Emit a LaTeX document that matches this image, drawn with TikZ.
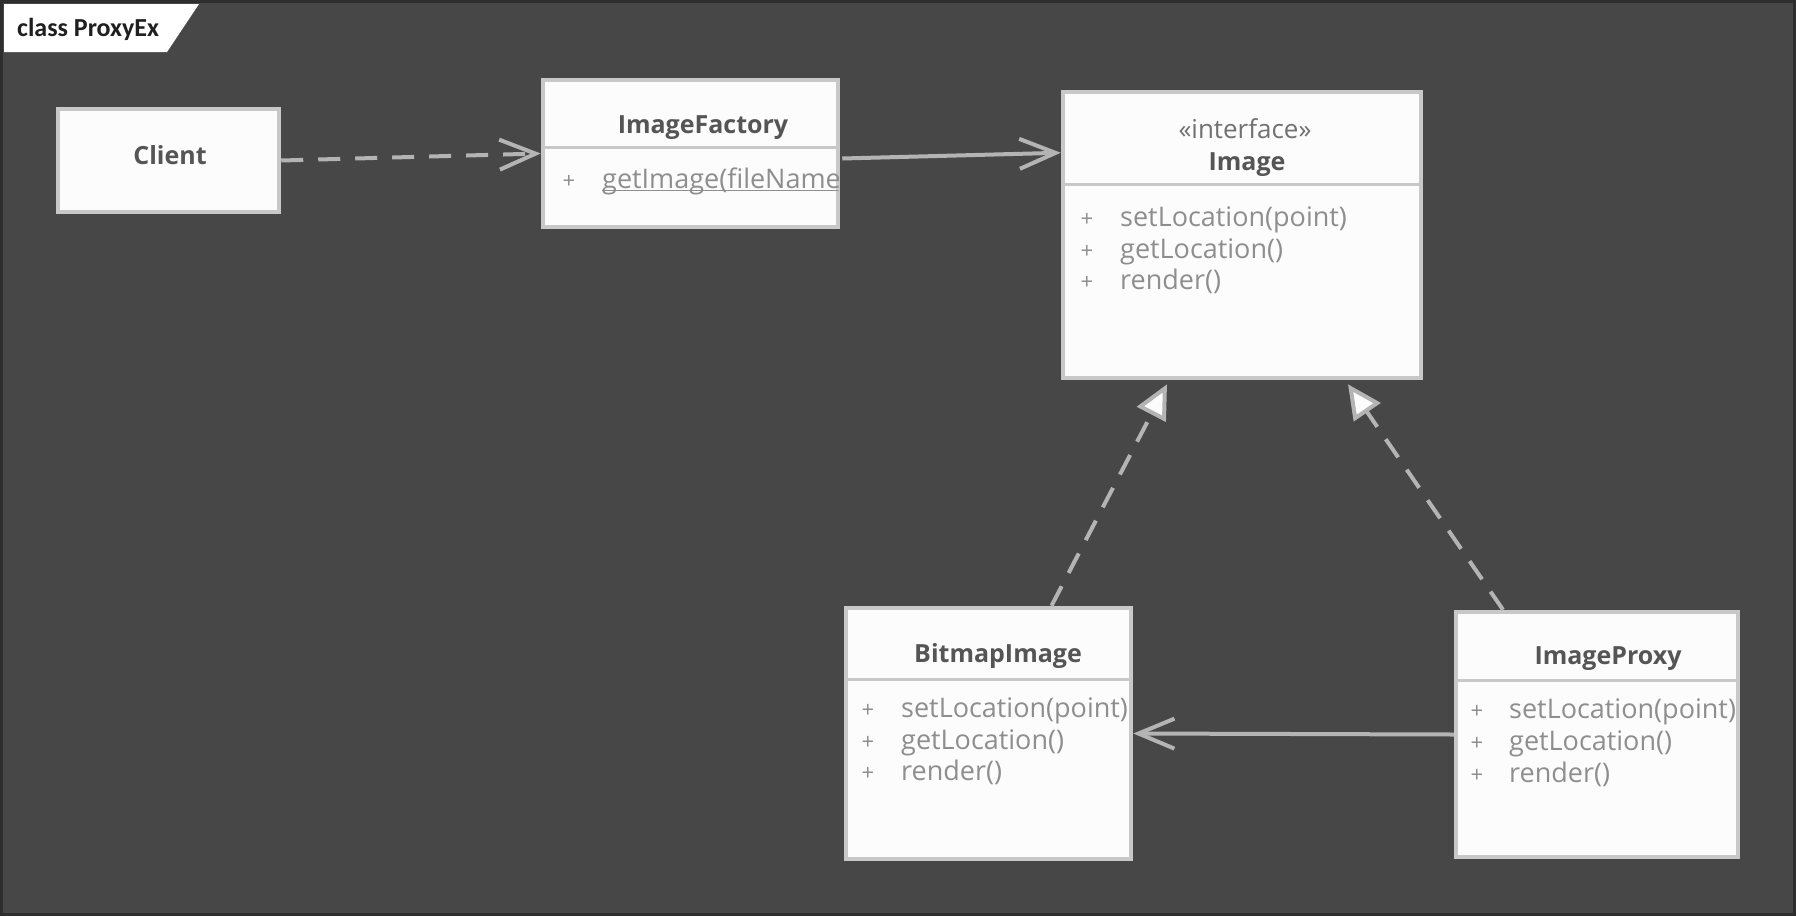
\documentclass[tikz,border=0pt]{standalone}
\usepackage{fontspec}
\setmainfont{Open Sans}
\newfontfamily\tabfont{Carlito}
\usetikzlibrary{arrows.meta,calc}
\definecolor{bg}{HTML}{474747}
\definecolor{boxfill}{HTML}{FCFCFC}
\definecolor{boxline}{HTML}{C8C8C8}
\definecolor{conn}{HTML}{B4B4B4}
\definecolor{titletext}{HTML}{555555}
\definecolor{membertext}{HTML}{8E8E8E}
\definecolor{frameline}{HTML}{2E2E2E}
\tikzset{
  umlbox/.style={draw=boxline, fill=boxfill, line width=4.5pt, rectangle, inner sep=0pt},
  divider/.style={draw=boxline, line width=3pt},
  titlestyle/.style={text=titletext, font=\fontsize{25pt}{30pt}\selectfont\bfseries, inner sep=0pt, anchor=base},
  stereo/.style={text=membertext!80!black, font=\fontsize{26pt}{30pt}\selectfont, inner sep=0pt, anchor=base},
  memberstyle/.style={text=membertext, font=\fontsize{27pt}{30pt}\selectfont, inner sep=0pt, anchor=base west},
  plusstyle/.style={text=membertext, font=\fontsize{22pt}{30pt}\selectfont, inner sep=0pt, anchor=base},
  depline/.style={draw=conn, line width=4pt, dash pattern=on 22pt off 15pt, -{Straight Barb[length=36pt,width=30pt]}},
  assocline/.style={draw=conn, line width=4pt, -{Straight Barb[length=36pt,width=30pt]}},
  realline/.style={draw=conn, line width=4pt, dash pattern=on 22pt off 15pt, -{Triangle[length=34pt,width=32pt,fill=boxfill]}},
}
\begin{document}
\begin{tikzpicture}[x=1pt,y=-1pt]
\useasboundingbox (0,0) rectangle (1796,916);
% background and frame
\fill[bg] (0,0) rectangle (1796,916);
\draw[frameline, line width=3pt] (1.5,1.5) rectangle (1794.5,914.5);
% title tab
\fill[white] (4,4) -- (199,4) -- (167,52) -- (4,52) -- cycle;
\node[text=black!88, font=\tabfont\fontsize{26pt}{30pt}\selectfont\bfseries, inner sep=0pt, anchor=base west] (tab) at (17,36) {class ProxyEx};

% boxes
\node[umlbox, minimum width=221pt, minimum height=103pt] (client) at (168.5,160.5) {};
\node[umlbox, minimum width=295pt, minimum height=147pt] (factory) at (690.5,153.5) {};
\node[umlbox, minimum width=358pt, minimum height=286pt] (image) at (1242,235) {};
\node[umlbox, minimum width=285pt, minimum height=251pt] (bitmap) at (988.5,733.5) {};
\node[umlbox, minimum width=282pt, minimum height=245pt] (proxy) at (1597,734.5) {};

% dividers
\coordinate (fdiv) at (0,147);
\coordinate (idiv) at (0,184);
\coordinate (bdiv) at (0,679);
\coordinate (pdiv) at (0,680);
\draw[divider] (factory.west |- fdiv) -- (factory.east |- fdiv);
\draw[divider] (image.west |- idiv) -- (image.east |- idiv);
\draw[divider] (bitmap.west |- bdiv) -- (bitmap.east |- bdiv);
\draw[divider] (proxy.west |- pdiv) -- (proxy.east |- pdiv);

% Client
\node[titlestyle] (clientT) at (170,164) {Client};

% ImageFactory
\node[titlestyle] (factoryT) at (703,133) {ImageFactory};
\node[plusstyle] (fplus) at (569,188) {+};
\begin{scope}
  \clip ($(factory.north west)+(2,2)$) rectangle ($(factory.south east)+(-2,-2)$);
  \node[memberstyle] (fm1) at (602,188) {\rlap{\color{membertext}\rule[-3pt]{260pt}{1.5pt}}getImage(fileName)};
\end{scope}

% Image
\node[stereo] (imageS) at (1245,138) {«interface»};
\node[titlestyle] (imageT) at (1247,170) {Image};
\node[plusstyle] (ip1) at (1087,226.5) {+};
\node[plusstyle] (ip2) at (1087,258) {+};
\node[plusstyle] (ip3) at (1087,289.5) {+};
\node[memberstyle] (im1) at (1120,226.5) {setLocation(point)};
\node[memberstyle] (im2) at (1120,258) {getLocation()};
\node[memberstyle] (im3) at (1120,289.5) {render()};

% BitmapImage
\node[titlestyle] (bitmapT) at (998,662) {BitmapImage};
\node[plusstyle] (bp1) at (868,717) {+};
\node[plusstyle] (bp2) at (868,749) {+};
\node[plusstyle] (bp3) at (868,780) {+};
\node[memberstyle] (bm1) at (901,717) {setLocation(point)};
\node[memberstyle] (bm2) at (901,749) {getLocation()};
\node[memberstyle] (bm3) at (901,780) {render()};

% ImageProxy
\node[titlestyle] (proxyT) at (1608,664) {ImageProxy};
\node[plusstyle] (pp1) at (1477,718) {+};
\node[plusstyle] (pp2) at (1477,750) {+};
\node[plusstyle] (pp3) at (1477,782) {+};
\node[memberstyle] (pm1) at (1509,718) {setLocation(point)};
\node[memberstyle] (pm2) at (1509,750) {getLocation()};
\node[memberstyle] (pm3) at (1509,782) {render()};

% connectors
\draw[depline] (client.east) -- (factory.west);
\draw[assocline] ($(factory.east)+(2,5)$) -- ($(image.north west)+(0,63)$);
\draw[realline] ($(bitmap.north)+(63,0)$) -- ($(image.south)+(-75,4)$);
\draw[realline] ($(proxy.north)+(-94,0)$) -- ($(image.south)+(106,4)$);
\draw[assocline] (proxy.west) -- (bitmap.east);
\end{tikzpicture}
\end{document}
